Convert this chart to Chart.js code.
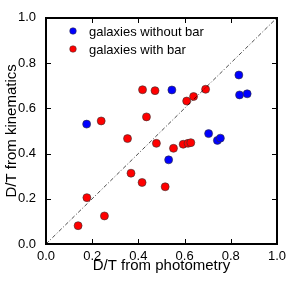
<!DOCTYPE html>
<html>
<head>
<meta charset="utf-8">
<script src="https://cdn.jsdelivr.net/npm/chart.js@4.4.1/dist/chart.umd.min.js"></script>
<style>
  html, body { margin:0; padding:0; background:#fff; }
  canvas { display:block; }
</style>
</head>
<body>
<canvas id="c" width="291" height="291"></canvas>
<script>
// D/T values
const barlessX = [0.176, 0.545, 0.835, 0.838, 0.871, 0.704, 0.742, 0.755, 0.531];
const barlessY = [0.530, 0.681, 0.747, 0.659, 0.664, 0.488, 0.458, 0.468, 0.372];
const barredX = [0.239, 0.418, 0.472, 0.435, 0.609, 0.639, 0.691, 0.353, 0.478, 0.368, 0.416, 0.516, 0.177, 0.253, 0.139, 0.552, 0.594, 0.615, 0.627];
const barredY = [0.544, 0.682, 0.678, 0.562, 0.632, 0.652, 0.684, 0.466, 0.445, 0.313, 0.272, 0.253, 0.205, 0.124, 0.081, 0.423, 0.441, 0.445, 0.448];
const oneToOne = [0, 1];
const legendLabels = ['galaxies without bar', 'galaxies with bar'];
const xTitle = 'D/T from photometry';
const yTitle = 'D/T from kinematics';

const pts = (xs, ys) => xs.map((x, i) => ({x, y: ys[i]}));
const BLUE = '#0000ff', RED = '#ff0000';
const FONT = '"Liberation Sans", sans-serif';

// frame with inward ticks on all sides, plus the legend inside the plot
const framePlugin = {
  id: 'frame',
  afterDraw(chart) {
    const ctx = chart.ctx, a = chart.chartArea, sx = chart.scales.x, sy = chart.scales.y;
    const L = Math.round(a.left), R = Math.round(a.right), T = Math.round(a.top), B = Math.round(a.bottom);
    ctx.save();
    ctx.fillStyle = '#000';
    ctx.fillRect(L - 1, T - 1, R - L + 2, 2);
    ctx.fillRect(L - 1, B - 1, R - L + 2, 2);
    ctx.fillRect(L - 1, T - 1, 2, B - T + 2);
    ctx.fillRect(R - 1, T - 1, 2, B - T + 2);
    sx.ticks.forEach(t => {
      const px = Math.round(sx.getPixelForValue(t.value));
      ctx.fillRect(px, B - 5, 1, 5);
      ctx.fillRect(px, T, 1, 5);
    });
    sy.ticks.forEach(t => {
      const py = Math.round(sy.getPixelForValue(t.value));
      ctx.fillRect(L, py, 5, 1);
      ctx.fillRect(R - 5, py, 5, 1);
    });
    const cols = [BLUE, RED];
    ctx.font = '13px ' + FONT;
    ctx.textBaseline = 'middle';
    ctx.textAlign = 'left';
    legendLabels.forEach((lab, i) => {
      const y = T + 13 + i * 18;
      ctx.beginPath();
      ctx.arc(L + 27, y, 3.3, 0, Math.PI * 2);
      ctx.fillStyle = cols[i];
      ctx.fill();
      ctx.lineWidth = 0.5;
      ctx.strokeStyle = '#333';
      ctx.stroke();
      ctx.fillStyle = '#000';
      ctx.fillText(lab, L + 43, y + 1);
    });
    ctx.restore();
  }
};

new Chart(document.getElementById('c'), {
  type: 'scatter',
  data: {
    datasets: [
      {
        type: 'line',
        data: pts(oneToOne, oneToOne),
        borderColor: '#000',
        borderWidth: 0.7,
        borderDash: [4, 2, 1, 2],
        pointRadius: 0,
        fill: false
      },
      {
        label: legendLabels[0],
        data: pts(barlessX, barlessY),
        backgroundColor: BLUE,
        borderColor: '#333',
        borderWidth: 0.6,
        pointRadius: 4
      },
      {
        label: legendLabels[1],
        data: pts(barredX, barredY),
        backgroundColor: RED,
        borderColor: '#333',
        borderWidth: 0.6,
        pointRadius: 4
      }
    ]
  },
  options: {
    responsive: false,
    animation: false,
    devicePixelRatio: 1,
    layout: { padding: { left: 0, right: 12, top: 12, bottom: 0 } },
    plugins: { legend: { display: false }, tooltip: { enabled: false } },
    scales: {
      x: {
        type: 'linear', min: 0, max: 1,
        afterFit: s => { s.height = 47; },
        grid: { display: false, drawTicks: false },
        border: { display: false },
        ticks: {
          stepSize: 0.2, padding: 5, color: '#000', maxRotation: 0,
          font: { family: FONT, size: 13 },
          callback: v => v.toFixed(1)
        },
        title: {
          display: true, text: xTitle, color: '#000',
          font: { family: FONT, size: 15 },
          padding: { top: 0, bottom: 16 }
        }
      },
      y: {
        type: 'linear', min: 0, max: 1,
        afterFit: s => { s.width = 46; },
        grid: { display: false, drawTicks: false },
        border: { display: false },
        ticks: {
          stepSize: 0.2, padding: 10, color: '#000',
          font: { family: FONT, size: 13 },
          callback: v => v.toFixed(1)
        },
        title: {
          display: true, text: yTitle, color: '#000',
          font: { family: FONT, size: 15 },
          padding: { top: 3, bottom: 0 }
        }
      }
    }
  },
  plugins: [framePlugin]
});
</script>
</body>
</html>
